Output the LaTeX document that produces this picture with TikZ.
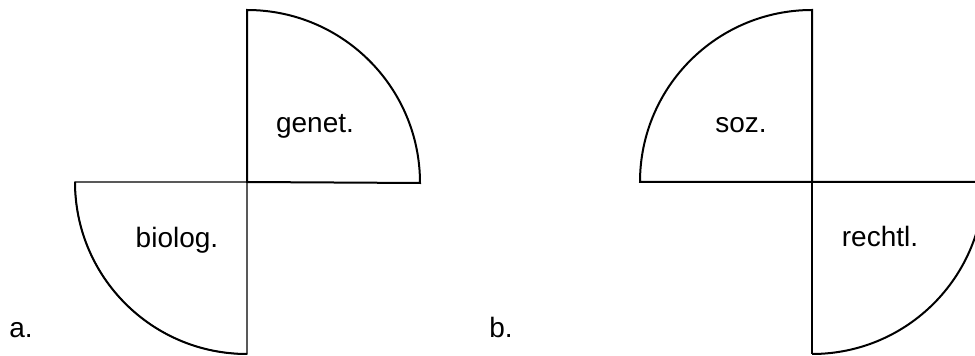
\documentclass[tikz,border=0pt]{standalone}
\usepackage{fontspec}
\setmainfont{Liberation Sans}
\begin{document}
\begin{tikzpicture}[x=1pt,y=1pt,
  heavy/.style={line width=2pt,line join=miter},
  light/.style={line width=1.2pt,line join=miter},
  lbl/.style={font=\fontsize{28}{32}\selectfont,anchor=base,inner sep=0pt}]
\useasboundingbox (0,0) rectangle (975,356);
% left figure (a.)
\coordinate (ca) at (247,174);
\draw[light] (ca) -- (75,174) arc[start angle=180,end angle=270,radius=172] -- cycle;
\draw[heavy] (247,2) arc[start angle=270,end angle=180,radius=172];
\draw[heavy] (ca) -- (247,346) arc[start angle=90,end angle=0,radius=173] -- cycle;
% right figure (b.)
\coordinate (cb) at (812,174);
\draw[heavy] (cb) -- (812,346) arc[start angle=90,end angle=180,radius=172] -- cycle;
\draw[light] (cb) -- (812,2);
\draw[heavy] (cb) -- (984,174) arc[start angle=0,end angle=-90,radius=172];
% labels
\node[lbl] (genet) at (315,223) {genet.};
\node[lbl] (biolog) at (177,108) {biolog.};
\node[lbl] (soz) at (741,223) {soz.};
\node[lbl] (rechtl) at (880,109) {rechtl.};
\node[lbl] (a) at (21,18) {a.};
\node[lbl] (b) at (501,18) {b.};
\end{tikzpicture}
\end{document}
